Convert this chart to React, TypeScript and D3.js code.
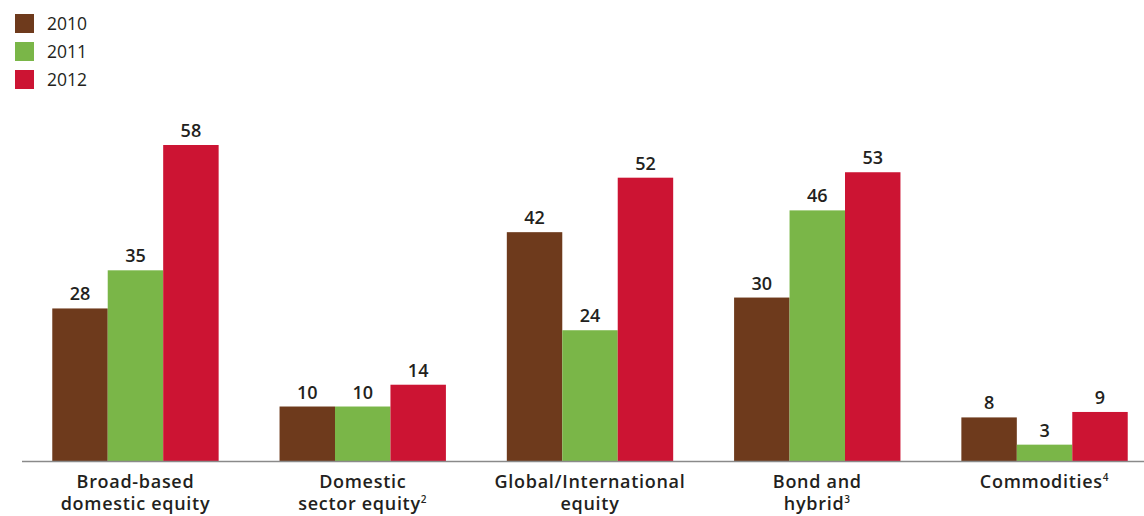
import React from "react";
import * as d3 from "d3";

const categories: string[][] = [
  ["Broad-based", "domestic equity"],
  ["Domestic", "sector equity|2"],
  ["Global/International", "equity"],
  ["Bond and", "hybrid|3"],
  ["Commodities|4"],
];
const years = ["2010", "2011", "2012"];
const values2010 = [28, 10, 42, 30, 8];
const values2011 = [35, 10, 24, 46, 3];
const values2012 = [58, 14, 52, 53, 9];
const colors = ["#6e3a1c", "#7ab648", "#cc1433"];

const W = 1144;
const H = 516;
const FONT = "'Open Sans', 'Noto Sans', sans-serif";

function Label({ text, x, y }: { text: string; x: number; y: number }) {
  const [main, sup] = text.split("|");
  return (
    <text
      x={x}
      y={y}
      textAnchor="middle"
      fontSize={18}
      fontWeight={600}
      letterSpacing={0.7}
      fill="#231f20"
      fontFamily={FONT}
    >
      {main}
      {sup && (
        <tspan fontSize={10} dy={-7}>
          {sup}
        </tspan>
      )}
    </text>
  );
}

export default function App() {
  const series = [values2010, values2011, values2012];
  const x0 = d3
    .scaleBand<number>()
    .domain(categories.map((_, i) => i))
    .range([25, 1155])
    .paddingInner(0.268)
    .paddingOuter(0.12);
  const x1 = d3.scaleBand<number>().domain([0, 1, 2]).range([0, x0.bandwidth()]);
  const y = d3.scaleLinear().domain([0, 58]).range([461, 145]);

  return (
    <svg
      width={W}
      height={H}
      style={{ position: "absolute", left: 0, top: 0, background: "#fff" }}
    >
      {/* legend */}
      {years.map((yr, i) => (
        <g key={yr} transform={`translate(15, ${14 + i * 28})`}>
          <rect width={19} height={19} fill={colors[i]} />
          <text x={32} y={16} fontSize={17.5} fill="#231f20" fontFamily={FONT}>
            {yr}
          </text>
        </g>
      ))}
      {/* bars */}
      {categories.map((cat, ci) => (
        <g key={ci} transform={`translate(${x0(ci)}, 0)`}>
          {series.map((s, si) => (
            <g key={si}>
              <rect
                x={x1(si)}
                y={y(s[ci])}
                width={x1.bandwidth()}
                height={y(0) - y(s[ci])}
                fill={colors[si]}
              />
              <text
                x={(x1(si) as number) + x1.bandwidth() / 2}
                y={y(s[ci]) - 8}
                textAnchor="middle"
                fontSize={18}
                fontWeight={600}
                fill="#231f20"
                fontFamily={FONT}
              >
                {s[ci]}
              </text>
            </g>
          ))}
          {cat.map((line, li) => (
            <Label key={li} text={line} x={x0.bandwidth() / 2} y={488 + li * 22} />
          ))}
        </g>
      ))}
      <line x1={22} x2={W} y1={461.5} y2={461.5} stroke="#8a8a8a" strokeWidth={1.5} />
    </svg>
  );
}
